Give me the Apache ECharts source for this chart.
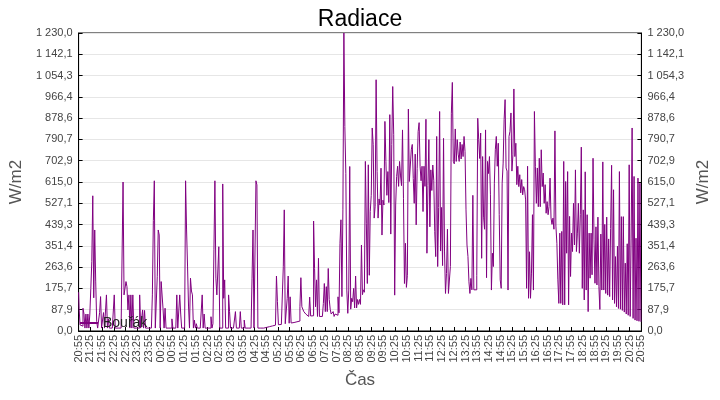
<!DOCTYPE html>
<html>
<head>
<meta charset="utf-8">
<script src="https://cdn.jsdelivr.net/npm/echarts@6/dist/echarts.min.js"></script>
<style>
html, body { margin: 0; padding: 0; background: #fff; }
#chart { width: 720px; height: 400px; }
</style>
</head>
<body>
<div id="chart"></div>
<script>
// tick labels
const timeLabels = [
    '20:55', '21:25', '21:55', '22:25', '22:55', '23:25', '23:55', '00:25', '00:55', '01:25',
    '01:55', '02:25', '02:55', '03:25', '03:55', '04:25', '04:55', '05:25', '05:55', '06:25',
    '06:55', '07:25', '07:55', '08:25', '08:55', '09:25', '09:55', '10:25', '10:55', '11:25',
    '11:55', '12:25', '12:55', '13:25', '13:55', '14:25', '14:55', '15:25', '15:55', '16:25',
    '16:55', '17:25', '17:55', '18:25', '18:55', '19:25', '19:55', '20:25', '20:55'
]
const yLabels = [
    '0,0', '87,9', '175,7', '263,6', '351,4', '439,3', '527,1', '615,0',
    '702,9', '790,7', '878,6', '966,4', '1 054,3', '1 142,1', '1 230,0'
]
const yMax = 1230
const yStep = yMax / 14

// one value every 2.5 minutes from 20:55 to 20:55 (12 per half hour, one row each)
const stepMinutes = 2.5
const radiace = [
    160, 94, 25, 22, 20, 94, 70, 12, 70, 12, 70, 12,
    70, 176, 286, 558, 137, 417, 206, 40, 12, 12, 76, 142,
    12, 12, 76, 12, 12, 149, 12, 50, 12, 12, 12, 12,
    12, 149, 12, 12, 12, 12, 12, 12, 12, 12, 615, 149,
    149, 204, 183, 87, 149, 12, 149, 12, 149, 12, 12, 12,
    12, 12, 12, 149, 12, 12, 87, 12, 85, 12, 12, 12,
    12, 12, 12, 12, 149, 456, 620, 12, 12, 224, 417, 396,
    12, 204, 204, 87, 12, 94, 12, 12, 12, 12, 12, 12,
    50, 12, 12, 12, 12, 149, 12, 12, 149, 70, 12, 12,
    12, 12, 620, 417, 268, 103, 12, 218, 165, 149, 12, 45,
    12, 30, 12, 12, 12, 12, 12, 149, 12, 70, 12, 12,
    12, 12, 12, 12, 59, 12, 30, 335, 620, 218, 149, 149,
    348, 12, 12, 12, 607, 135, 211, 12, 12, 12, 149, 80,
    12, 12, 12, 12, 12, 80, 12, 12, 12, 12, 80, 12,
    12, 12, 45, 12, 12, 12, 12, 12, 12, 12, 218, 417,
    12, 12, 620, 603, 12, 12, 12, 12, 12, 12, 12, 14,
    15, 15, 17, 18, 18, 20, 21, 21, 23, 24, 25, 227,
    121, 26, 26, 27, 28, 28, 265, 500, 30, 30, 135, 227,
    32, 141, 33, 34, 35, 36, 37, 38, 39, 40, 41, 100,
    220, 100, 95, 80, 75, 70, 62, 60, 60, 140, 62, 63,
    63, 454, 258, 100, 211, 60, 300, 60, 57, 60, 60, 114,
    196, 80, 183, 80, 258, 130, 90, 70, 70, 80, 60, 70,
    70, 65, 141, 75, 362, 459, 142, 500, 1230, 844, 651, 169,
    73, 169, 679, 90, 135, 121, 176, 95, 227, 95, 130, 110,
    130, 110, 355, 150, 170, 160, 700, 445, 196, 686, 230, 493,
    560, 838, 769, 466, 515, 1037, 658, 466, 545, 520, 672, 396,
    540, 520, 865, 700, 560, 658, 530, 893, 400, 769, 1009, 810,
    148, 520, 638, 680, 597, 700, 640, 600, 830, 548, 196, 362,
    180, 230, 916, 617, 610, 748, 770, 630, 527, 730, 438, 670,
    823, 860, 680, 620, 680, 493, 680, 597, 874, 321, 600, 790,
    430, 665, 580, 685, 620, 410, 307, 803, 266, 510, 906, 330,
    510, 270, 795, 330, 155, 237, 420, 155, 160, 266, 899, 1026,
    700, 690, 834, 700, 790, 730, 700, 780, 710, 770, 720, 803,
    740, 500, 355, 307, 203, 155, 217, 170, 560, 170, 175, 170,
    230, 878, 790, 712, 817, 300, 720, 470, 420, 830, 220, 700,
    650, 720, 562, 169, 321, 266, 610, 748, 803, 680, 775, 480,
    211, 176, 610, 693, 872, 955, 673, 660, 169, 803, 824, 900,
    660, 727, 999, 720, 775, 604, 680, 596, 645, 570, 625, 562,
    596, 583, 541, 176, 680, 135, 327, 135, 239, 480, 169, 906,
    680, 527, 673, 513, 713, 513, 748, 596, 652, 527, 604, 486,
    534, 480, 514, 631, 466, 440, 466, 420, 826, 433, 362, 211,
    114, 404, 114, 411, 108, 700, 108, 617, 321, 658, 108, 473,
    225, 404, 328, 527, 355, 665, 328, 404, 527, 321, 480, 759,
    176, 500, 128, 657, 169, 480, 80, 404, 218, 404, 232, 713,
    376, 197, 430, 190, 470, 183, 89, 400, 169, 698, 169, 440,
    155, 470, 148, 380, 142, 423, 684, 128, 583, 114, 307, 100,
    350, 93, 658, 90, 472, 85, 472, 78, 280, 70, 360, 65,
    686, 60, 380, 838, 52, 638, 45, 383, 42, 631, 40, 610,
    38
]

const font = "'Liberation Sans', Arial, sans-serif"

let chart = echarts.init(document.getElementById('chart'), null, {renderer: 'canvas'})

function yAxisDef(position) {
    return {
        type: 'value',
        position: position,
        min: 0,
        max: yMax,
        interval: yStep,
        name: 'W/m2',
        nameLocation: 'middle',
        nameGap: 50,
        nameRotate: 90,
        nameTextStyle: {fontFamily: font, fontSize: 17, color: '#555'},
        axisLine: {show: true, lineStyle: {color: '#000', width: 1}},
        axisTick: {show: true, inside: true, length: 4, lineStyle: {color: '#000'}},
        axisLabel: {
            fontFamily: font,
            fontSize: 11,
            color: '#444',
            margin: 6,
            formatter: v => yLabels[Math.round(v / yStep)]
        },
        splitLine: {show: position === 'left', lineStyle: {color: '#e6e6e6', width: 1}}
    }
}

chart.setOption({
    animation: false,
    backgroundColor: '#fff',
    title: {
        text: 'Radiace',
        left: 'center',
        top: 3,
        textStyle: {fontFamily: font, fontSize: 23, fontWeight: 'normal', color: '#000'}
    },
    grid: {
        left: 76,
        right: 75,
        top: 33,
        bottom: 69,
        show: true,
        borderColor: '#000',
        borderWidth: 1
    },
    legend: {
        data: ['Bouřák'],
        left: 75,
        top: 311,
        itemWidth: 18,
        itemHeight: 2,
        itemGap: 4,
        icon: 'rect',
        textStyle: {fontFamily: font, fontSize: 14, color: '#222'}
    },
    xAxis: {
        type: 'value',
        min: 0,
        max: 1440,
        interval: 30,
        name: 'Čas',
        nameLocation: 'middle',
        nameGap: 41,
        nameTextStyle: {fontFamily: font, fontSize: 17, color: '#555'},
        axisLine: {show: true, lineStyle: {color: '#000', width: 1}},
        axisTick: {show: true, inside: true, length: 4, lineStyle: {color: '#000'}},
        axisLabel: {
            rotate: 90,
            fontFamily: font,
            fontSize: 11,
            color: '#444',
            margin: 4,
            showMinLabel: true,
            showMaxLabel: true,
            formatter: v => timeLabels[Math.round(v / 30)]
        },
        splitLine: {show: false}
    },
    yAxis: [yAxisDef('left'), yAxisDef('right')],
    series: [
        {
            name: 'Bouřák',
            type: 'line',
            step: 'middle',
            yAxisIndex: 0,
            symbol: 'none',
            color: '#800080',
            lineStyle: {color: '#800080', width: 1},
            data: radiace.map((v, i) => [i * stepMinutes, v])
        }
    ]
})
</script>
</body>
</html>
